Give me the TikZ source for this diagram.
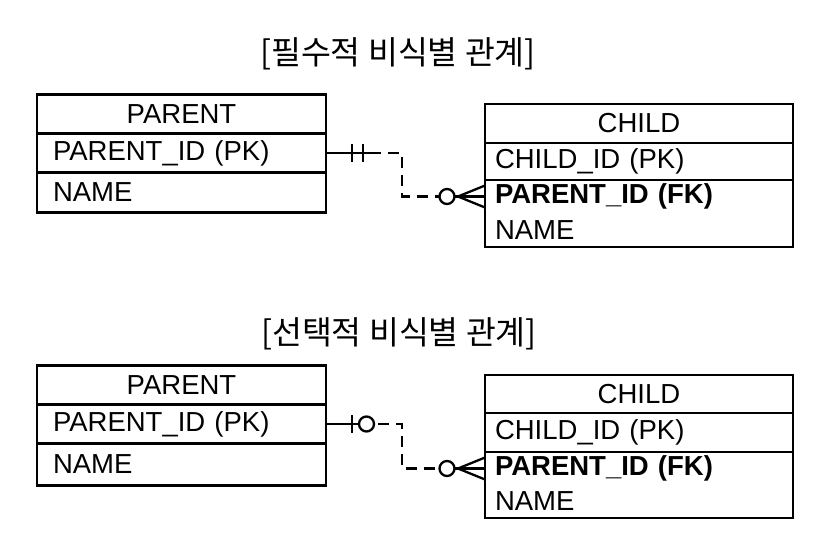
\documentclass[tikz,border=0pt]{standalone}
\usepackage{fontspec}
\setmainfont{Liberation Sans}
\newfontfamily\kofont{Noto Sans CJK KR}
\usetikzlibrary{positioning}
\usetikzlibrary{calc}

\begin{document}
\begin{tikzpicture}[x=1pt,y=-1pt,line width=2.3pt,
  cell/.style={inner ysep=0pt,outer sep=0pt,minimum height=39pt,font=\fontsize{27.5}{30}\selectfont,align=left},
  pent/.style={cell,draw,inner xsep=16pt,text width=257pt},
  cent/.style={cell,draw,inner xsep=10pt,text width=288pt},
  head/.style={align=center},
  title/.style={font=\kofont\fontsize{32.5}{36}\selectfont},
  dsh/.style={dashed,dash pattern=on 11pt off 7pt}]
\useasboundingbox (0,0) rectangle (833,539);

% ---- mandatory ----
\node[title] (tA) at (398,54) {[필수적 비식별 관계]};
\node[pent,head] (pA1) at (181.5,114) {PARENT};
\node[pent,below=0pt of pA1] (pA2) {PARENT\_ID (PK)};
\node[pent,below=0pt of pA2,minimum height=40pt] (pA3) {NAME};

\node[cent,head] (cA1) at (639,123.5) {CHILD};
\node[cent,below=0pt of cA1,minimum height=37pt] (cA2) {CHILD\_ID (PK)};
\node[cent,draw=none,below=0pt of cA2,minimum height=33pt] (cfkA) {\textbf{PARENT\_ID (FK)}};
\node[cent,draw=none,below=0pt of cfkA,minimum height=34pt] (cnmA) {NAME};
\draw (cfkA.north west) rectangle (cnmA.south east);

\draw (pA2.east) -- ++(44,0) coordinate (sA);
\draw ($(pA2.east)+(26,-9)$) -- ++(0,18) ($(pA2.east)+(37,-9)$) -- ++(0,18);
\draw[dsh] (sA) -- ++(32,0) |- ($(cfkA.west)+(-46,0)$);

% ---- optional ----
\node[title] (tB) at (399,334) {[선택적 비식별 관계]};
\node[pent,head] (pB1) at (181.5,385) {PARENT};
\node[pent,below=0pt of pB1] (pB2) {PARENT\_ID (PK)};
\node[pent,below=0pt of pB2,minimum height=42pt] (pB3) {NAME};

\node[cent,head,minimum height=38pt] (cB1) at (639,394) {CHILD};
\node[cent,below=0pt of cB1] (cB2) {CHILD\_ID (PK)};
\node[cent,draw=none,below=0pt of cB2,minimum height=33pt] (cfkB) {\textbf{PARENT\_ID (FK)}};
\node[cent,draw=none,below=0pt of cfkB,minimum height=33pt] (cnmB) {NAME};
\draw (cfkB.north west) rectangle (cnmB.south east);

\draw (pB2.east) -- ++(33,0);
\draw ($(pB2.east)+(26,-9)$) -- ++(0,18);
\draw ($(pB2.east)+(40.5,0)$) circle[radius=7.5pt];
\draw[dsh] ($(pB2.east)+(52,0)$) -- ++(24,0) |- ($(cfkB.west)+(-46,0)$);

% ---- zero-or-many ends ----
\foreach \c in {cfkA,cfkB}{
  \draw ($(\c.west)+(-38,0)$) circle[radius=7.5pt];
  \draw ($(\c.west)+(-30.5,0)$) -- (\c.west);
  \draw ($(\c.west)+(-27,0)$) -- ($(\c.west)+(0,-11)$)
        ($(\c.west)+(-27,0)$) -- ($(\c.west)+(0,11)$);
}
\end{tikzpicture}
\end{document}
